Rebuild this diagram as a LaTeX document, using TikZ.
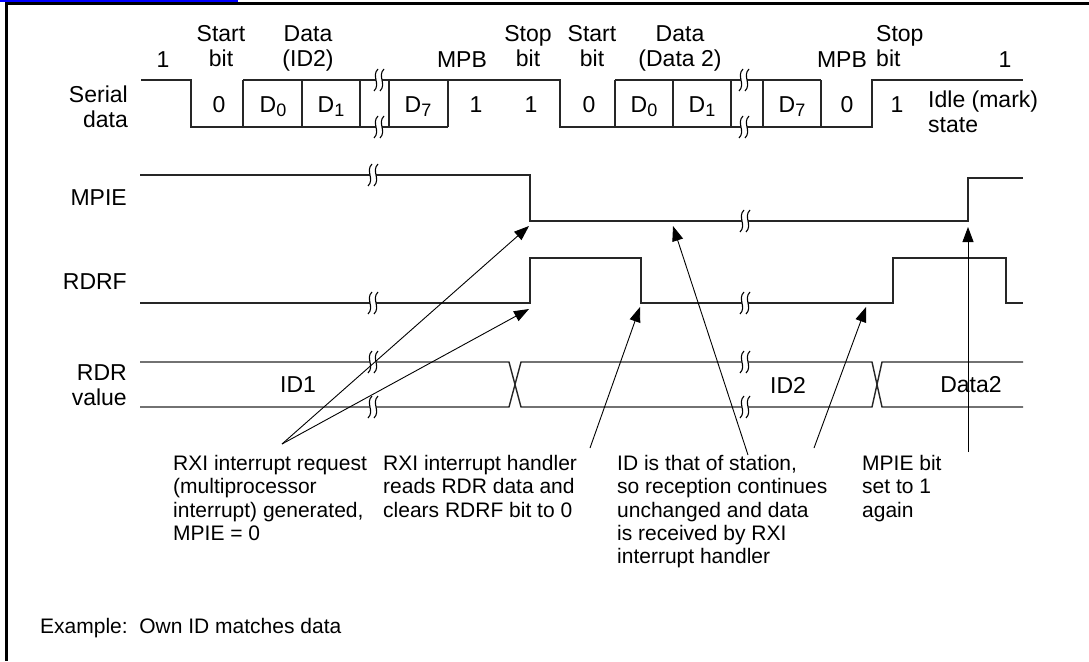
\documentclass[tikz,border=0pt]{standalone}
\usepackage{fontspec}
\setmainfont{Liberation Sans}
\usetikzlibrary{arrows.meta}
\newcommand{\Dsub}[1]{D\raisebox{-0.35ex}{\fontsize{18}{18}\selectfont #1}}
\tikzset{
  sig/.style={line width=1.4pt, draw=black!85, line join=miter},
  arr/.style={-{Triangle[length=15pt,width=11pt]}, line width=0.9pt},
  lbl/.style={font=\fontsize{23}{25}\selectfont, inner sep=0pt},
  note/.style={font=\fontsize{21}{23.3}\selectfont, inner sep=0pt, align=left, anchor=north west},
  brk/.pic={
    \fill[white] (2,-11) .. controls (-5,-4) and (5,4) .. (-2,11) -- (4,11) .. controls (11,4) and (1,-4) .. (8,-11) -- cycle;
    \draw[line width=1.1pt] (2,-11) .. controls (-5,-4) and (5,4) .. (-2,11);
    \draw[line width=1.1pt] (8,-11) .. controls (1,-4) and (11,4) .. (4,11);
  }
}
\begin{document}
\begin{tikzpicture}[x=1pt,y=-1pt]
\useasboundingbox (0,0) rectangle (1089,661);
% frame
\draw[line width=2.2pt] (5,3.5) -- (1089,3.5);
\draw[line width=2.2pt] (6.5,3) -- (6.5,661);
\draw[line width=1.8pt, blue] (0,1) -- (238,1);

% ---------- serial data ----------
\draw[sig] (141,80) -- (191,80) -- (191,127) -- (448,127);
\draw[sig] (243,80) -- (560,80) -- (560,127) -- (872,127) -- (872,80) -- (1023,80);
\draw[sig] (615,80) -- (821,80);
\foreach \x in {243,302,360,389,448,615,673,731,763,821}
  \draw[sig] (\x,80) -- (\x,127);

% ---------- MPIE / RDRF / RDR ----------
\draw[sig] (140,175) -- (530,175) -- (530,221) -- (968,221) -- (968,178) -- (1023,178);
\draw[sig] (140,303) -- (530,303) -- (530,258) -- (641,258) -- (641,303) -- (893,303) -- (893,258) -- (1006,258) -- (1006,303) -- (1023,303);
\draw[sig] (140,362) -- (509,362) -- (521,407) -- (872,407) -- (882,362) -- (1023,362);
\draw[sig] (140,407) -- (509,407) -- (521,362) -- (872,362) -- (882,407) -- (1023,407);

% break marks
\foreach \p in {(376,80),(376,127),(741,80),(741,127),(370,175),(742,221),(370,303),(742,303),(370,362),(370,407),(742,362),(742,407)}
  \pic at \p {brk};

% ---------- labels ----------
\node[lbl, align=right, anchor=east] (lserial) at (128,107) {Serial\\data};
\node[lbl, anchor=east] (lmpie) at (127,198) {MPIE};
\node[lbl, anchor=east] (lrdrf) at (127,282) {RDRF};
\node[lbl, align=right, anchor=east] (lrdr) at (127,385) {RDR\\value};

\node[lbl, anchor=base] (one1) at (163,67) {1};
\node[lbl, align=center, anchor=north] (sb1) at (221,25.5) {Start\\bit};
\node[lbl, align=center, anchor=north] (dat1) at (308,25.5) {Data\\(ID2)};
\node[lbl, anchor=base] (mpb1) at (462,67) {MPB};
\node[lbl, align=center, anchor=north] (stb1) at (528,25.5) {Stop\\bit};
\node[lbl, align=center, anchor=north] (sb2) at (592,25.5) {Start\\bit};
\node[lbl, align=center, anchor=north] (dat2) at (680,25.5) {Data\\(Data 2)};
\node[lbl, anchor=base] (mpb2) at (842,67) {MPB};
\node[lbl, align=left, anchor=north west] (stb2) at (876,25.5) {Stop\\bit};
\node[lbl, anchor=base] (one2) at (1005,67) {1};

\node[lbl, anchor=base] (b0a) at (219,112) {0};
\node[lbl, anchor=base] (d0a) at (273,112) {\Dsub{0}};
\node[lbl, anchor=base] (d1a) at (331,112) {\Dsub{1}};
\node[lbl, anchor=base] (d7a) at (418,112) {\Dsub{7}};
\node[lbl, anchor=base] (mpa) at (476,112) {1};
\node[lbl, anchor=base] (spa) at (531,112) {1};
\node[lbl, anchor=base] (b0b) at (589,112) {0};
\node[lbl, anchor=base] (d0b) at (644,112) {\Dsub{0}};
\node[lbl, anchor=base] (d1b) at (702,112) {\Dsub{1}};
\node[lbl, anchor=base] (d7b) at (792,112) {\Dsub{7}};
\node[lbl, anchor=base] (mpb) at (847,112) {0};
\node[lbl, anchor=base] (spb) at (897,112) {1};
\node[lbl, align=left, anchor=north west] (idle) at (928,91) {Idle (mark)\\state};

\node[lbl] (id1) at (298,385) {ID1};
\node[lbl] (id2) at (788,385) {ID2};
\node[lbl] (data2) at (971,385) {Data2};

% ---------- notes ----------
\node[note] (n1) at (173,455) {RXI interrupt request\\(multiprocessor\\interrupt) generated,\\MPIE = 0};
\node[note] (n2) at (383,455) {RXI interrupt handler\\reads RDR data and\\clears RDRF bit to 0};
\node[note] (n3) at (617,455) {ID is that of station,\\so reception continues\\unchanged and data\\is received by RXI\\interrupt handler};
\node[note] (n4) at (862,455) {MPIE bit\\set to 1\\again};
\node[note] (ex) at (40,618) {Example:\ \ Own ID matches data};

% ---------- arrows ----------
\coordinate (t1) at (282,444);
\coordinate (h1) at (529,226);
\coordinate (h2) at (529,309);
\coordinate (t3) at (590,448);
\coordinate (h3) at (640,307);
\coordinate (t4) at (748,455);
\coordinate (h4) at (673,226);
\coordinate (t5) at (814,448);
\coordinate (h5) at (866,307);
\coordinate (t6) at (968,452);
\coordinate (h6) at (968,227);
\draw[arr] (t1) -- (h1);
\draw[arr] (t1) -- (h2);
\draw[arr] (t3) -- (h3);
\draw[arr] (t4) -- (h4);
\draw[arr] (t5) -- (h5);
\draw[arr] (t6) -- (h6);
\end{tikzpicture}
\end{document}
